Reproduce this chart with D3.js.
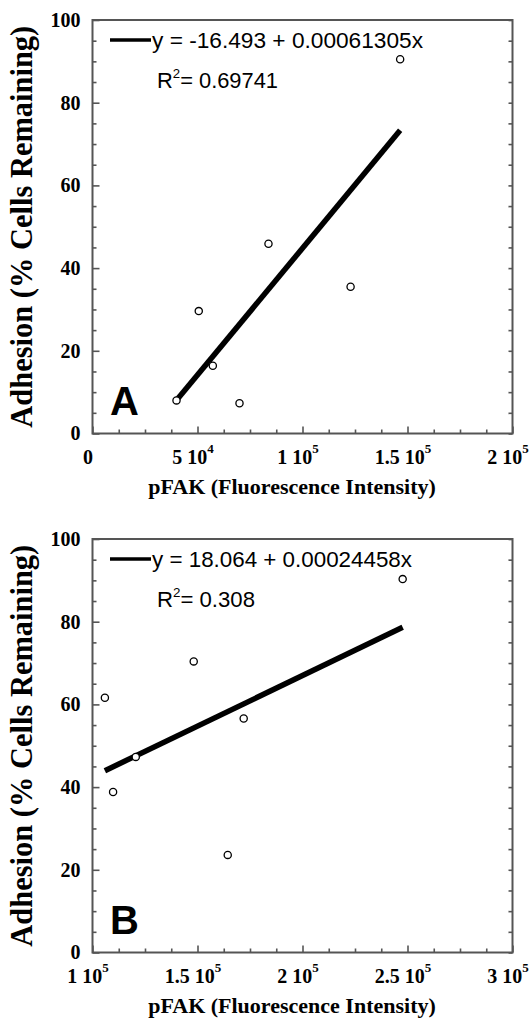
<!doctype html>
<html lang="en">
<head>
  <meta charset="utf-8">
  <title>Adhesion vs pFAK</title>
  <style>
  body { margin: 0; background: #fff; }
  .frame { fill: none; stroke: #555; stroke-width: 2; }
  .axis path { display: none; }
  .axis line { stroke: #555; stroke-width: 1.6; }
  .tick-lab { font-family: "Liberation Serif", serif; font-weight: bold; font-size: 20px; fill: #000; }
  .title { font-family: "Liberation Serif", serif; font-weight: bold; fill: #000; }
  .legend { font-family: "Liberation Sans", Arial, sans-serif; font-size: 21.5px; fill: #000; }
  .panel-id { font-family: "Liberation Sans", Arial, sans-serif; font-weight: bold; font-size: 40px; fill: #000; }
  </style>
</head>
<body>
  <div id="chart"></div>
  <script src="https://d3js.org/d3.v7.min.js"></script>
  <script>
// panel A
var pfakA = [40000, 50600, 57300, 70000, 83800, 122900, 146500];
var adhesionA = [8.0, 29.6, 16.4, 7.3, 45.9, 35.5, 90.5];
var fitA = [-16.493, 0.00061305];
var fitTextA = "y = -16.493 + 0.00061305x";
var r2TextA = "0.69741";
var xTicksA = [0, 50000, 100000, 150000, 200000];
var xMantA = ["0", "5", "1", "1.5", "2"];
var xExpA = ["", "4", "5", "5", "5"];

// panel B
var pfakB = [105900, 109800, 120600, 148200, 164400, 172000, 247700];
var adhesionB = [61.6, 38.8, 47.3, 70.4, 23.6, 56.6, 90.3];
var fitB = [18.064, 0.00024458];
var fitTextB = "y = 18.064 + 0.00024458x";
var r2TextB = "0.308";
var xTicksB = [100000, 150000, 200000, 250000, 300000];
var xMantB = ["1", "1.5", "2", "2.5", "3"];
var xExpB = ["5", "5", "5", "5", "5"];

var yTicks = [0, 20, 40, 60, 80, 100];

var width = 531, height = 1025;
var svg = d3.select("#chart").append("svg")
    .attr("width", width).attr("height", height);

function drawPanel(o) {
  var left = 92.5, right = 512.5;
  var x = d3.scaleLinear().domain(o.xDomain).range([left, right]);
  var y = d3.scaleLinear().domain([0, 100]).range([o.bottom, o.top]);
  var g = svg.append("g");

  // minor ticks
  var yMinor = d3.range(0, 101, 5).filter(function(d) { return d % 20 !== 0; });
  var xStep = (o.xDomain[1] - o.xDomain[0]) / 16;
  var xMinor = d3.range(1, 16).map(function(i) { return o.xDomain[0] + i * xStep; })
      .filter(function(d, i) { return (i + 1) % 4 !== 0; });

  g.append("g").attr("class", "axis").attr("transform", "translate(" + left + ",0)")
    .call(d3.axisLeft(y).tickValues(yMinor).tickSize(-4).tickFormat(""));
  g.append("g").attr("class", "axis").attr("transform", "translate(" + right + ",0)")
    .call(d3.axisRight(y).tickValues(d3.range(0, 101, 5)).tickSize(-4).tickFormat(""));
  g.append("g").attr("class", "axis").attr("transform", "translate(0," + o.bottom + ")")
    .call(d3.axisBottom(x).tickValues(xMinor).tickSize(-4).tickFormat(""));

  // major ticks + labels
  var ya = g.append("g").attr("class", "axis").attr("transform", "translate(" + left + ",0)")
    .call(d3.axisLeft(y).tickValues(yTicks).tickSizeInner(-7).tickSizeOuter(0).tickPadding(12));
  ya.selectAll(".tick text").attr("class", "tick-lab").attr("fill", null)
    .attr("font-size", null).attr("font-family", null);

  var xa = g.append("g").attr("class", "axis").attr("transform", "translate(0," + o.bottom + ")")
    .call(d3.axisBottom(x).tickValues(o.xTicks).tickSizeInner(-7).tickSizeOuter(0).tickFormat(""));
  xa.selectAll(".tick").each(function(d, i) {
    var t = d3.select(this).append("text")
      .attr("class", "tick-lab")
      .attr("x", -5).attr("y", 30)
      .attr("text-anchor", "middle");
    t.append("tspan").text(o.xMant[i] + (o.xExp[i] ? " 10" : ""));
    if (o.xExp[i]) {
      t.append("tspan").attr("dy", -11).attr("font-size", 13).text(o.xExp[i]);
    }
  });

  g.append("rect").attr("class", "frame")
    .attr("x", left).attr("y", o.top)
    .attr("width", right - left).attr("height", o.bottom - o.top);

  // regression line
  var ext = d3.extent(o.xs);
  g.append("line")
    .attr("x1", x(ext[0])).attr("y1", y(o.fit[0] + o.fit[1] * ext[0]))
    .attr("x2", x(ext[1])).attr("y2", y(o.fit[0] + o.fit[1] * ext[1]))
    .attr("stroke", "#000").attr("stroke-width", 5.5);

  // points
  g.selectAll("circle.pt").data(o.xs).enter().append("circle")
    .attr("class", "pt")
    .attr("cx", function(d) { return x(d); })
    .attr("cy", function(d, i) { return y(o.ys[i]); })
    .attr("r", 3.6)
    .attr("fill", "#fff").attr("stroke", "#000").attr("stroke-width", 1.3);

  // legend
  var ly = o.top + 20;
  g.append("line").attr("x1", 110).attr("x2", 151).attr("y1", ly).attr("y2", ly)
    .attr("stroke", "#000").attr("stroke-width", 3.5);
  g.append("text").attr("class", "legend").attr("x", 152).attr("y", ly + 7.5)
    .attr("textLength", o.fitLen).attr("lengthAdjust", "spacingAndGlyphs")
    .text(o.fitText);
  var r = g.append("text").attr("class", "legend").attr("x", 157).attr("y", ly + 47.5)
    .attr("textLength", o.r2Len).attr("lengthAdjust", "spacingAndGlyphs");
  r.append("tspan").text("R");
  r.append("tspan").attr("dy", -10).attr("font-size", 13).text("2");
  r.append("tspan").attr("dy", 10).text("= " + o.r2Text);

  // panel letter
  g.append("text").attr("class", "panel-id").attr("x", 110).attr("y", o.bottom - 19).text(o.id);

  // axis titles
  g.append("text").attr("class", "title").attr("font-size", 22)
    .attr("x", 292).attr("y", o.bottom + 60).attr("text-anchor", "middle")
    .text("pFAK (Fluorescence Intensity)");
  g.append("text").attr("class", "title").attr("font-size", 31)
    .attr("text-anchor", "middle")
    .attr("textLength", 402).attr("lengthAdjust", "spacingAndGlyphs")
    .attr("transform", "translate(32," + ((o.top + o.bottom) / 2) + ") rotate(-90)")
    .text("Adhesion (% Cells Remaining)");
}

drawPanel({ id: "A", top: 20, bottom: 433.5, xDomain: [0, 200000],
  xs: pfakA, ys: adhesionA, fit: fitA, fitText: fitTextA, r2Text: r2TextA,
  xTicks: xTicksA, xMant: xMantA, xExp: xExpA, fitLen: 271, r2Len: 121 });
drawPanel({ id: "B", top: 539, bottom: 952.5, xDomain: [100000, 300000],
  xs: pfakB, ys: adhesionB, fit: fitB, fitText: fitTextB, r2Text: r2TextB,
  xTicks: xTicksB, xMant: xMantB, xExp: xExpB, fitLen: 260, r2Len: 98 });
  </script>
</body>
</html>
